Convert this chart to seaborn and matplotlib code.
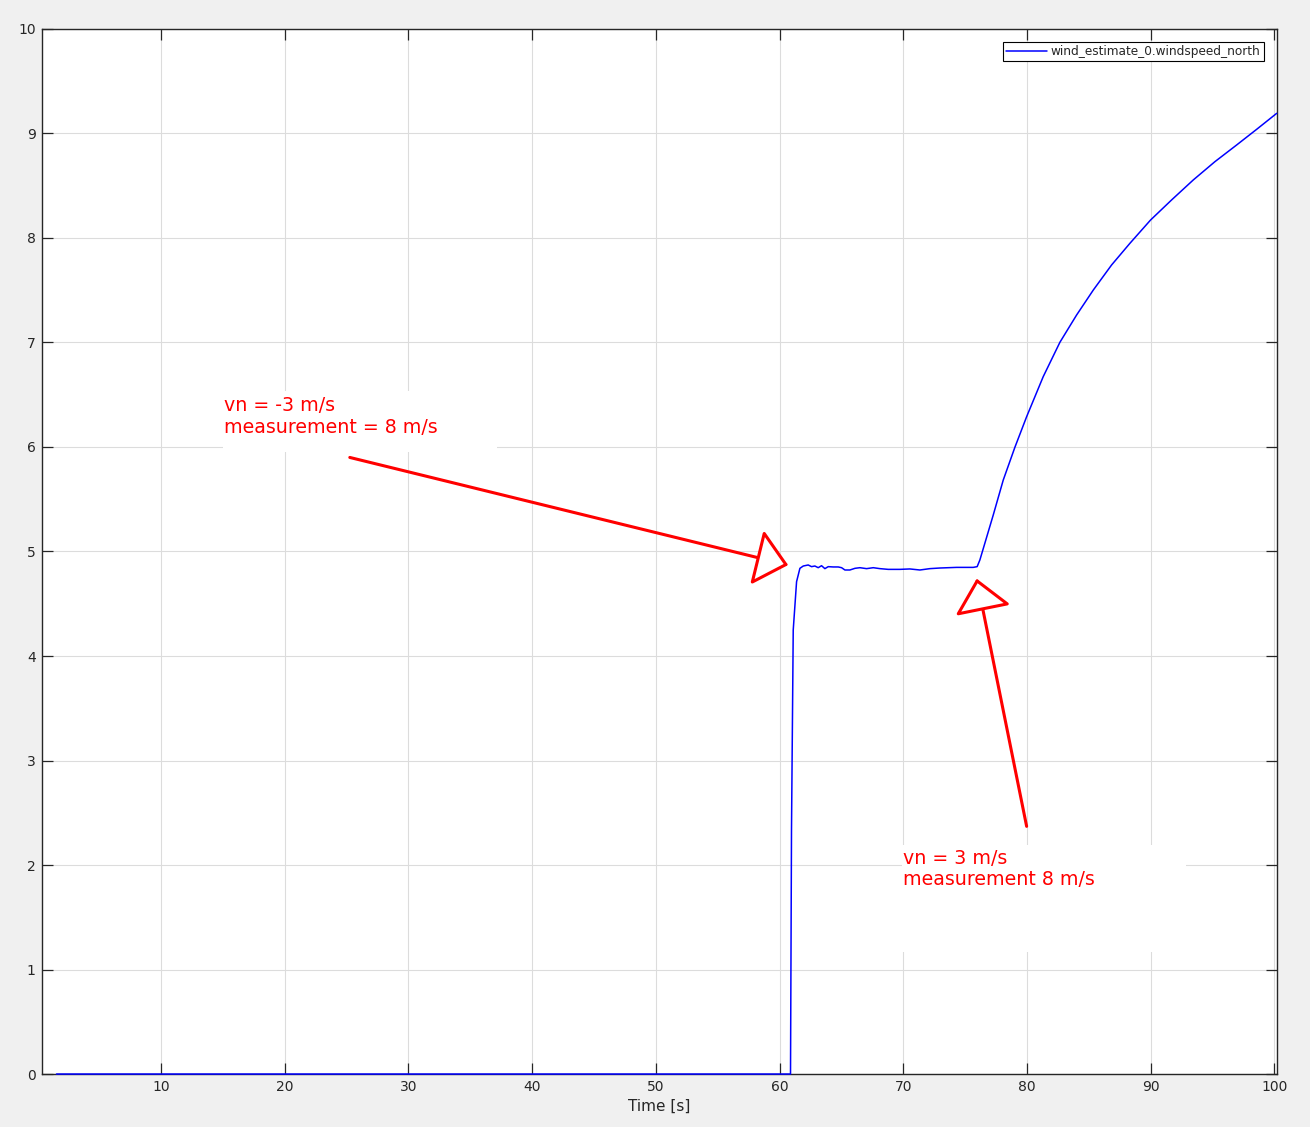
import pandas as pd
import matplotlib.pyplot as plt
import seaborn as sns
from matplotlib.patches import Rectangle

# wind_estimate_0.windspeed_north
time_s = [1.55, 60.89, 60.97, 61.11, 61.38, 61.65, 61.92, 62.32, 62.59, 62.86,
          63.13, 63.40, 63.67, 63.94, 64.34, 64.75, 65.02, 65.29, 65.69, 66.10,
          66.50, 67.04, 67.58, 68.12, 68.79, 69.73, 70.54, 71.35, 72.16, 72.97,
          74.32, 75.66, 75.98, 76.20, 77.28, 78.09, 79.03, 79.98, 81.32, 82.67,
          84.02, 85.37, 86.85, 88.33, 90.00, 91.70, 93.45, 95.20, 96.96, 98.58,
          100.20]
windspeed_north = [0.0, 0.0, 2.335, 4.249, 4.711, 4.839, 4.861, 4.871, 4.855, 4.861,
                   4.845, 4.864, 4.836, 4.855, 4.852, 4.852, 4.845, 4.823, 4.823, 4.839,
                   4.845, 4.836, 4.845, 4.836, 4.829, 4.829, 4.833, 4.823, 4.836, 4.842,
                   4.848, 4.848, 4.855, 4.919, 5.349, 5.684, 5.997, 6.290, 6.673, 7.002,
                   7.263, 7.502, 7.742, 7.949, 8.172, 8.364, 8.555, 8.730, 8.890, 9.040,
                   9.193]
series_label = 'wind_estimate_0.windspeed_north'

# hand drawn notes on the screenshot (text anchored at baseline of last line)
note_texts = ['vn = -3 m/s\nmeasurement = 8 m/s', 'vn = 3 m/s\nmeasurement 8 m/s']
note_xy = [(15.07, 6.137), (69.97, 1.806)]
note_boxes = [(14.97, 5.95, 22.23, 0.59), (69.87, 1.17, 22.99, 1.02)]
arrow_tails = [(25.26, 5.90), (79.98, 2.37)]
arrow_tips = [(60.70, 4.87), (75.94, 4.74)]

df = pd.DataFrame({'time': time_s, 'value': windspeed_north})

sns.set_theme(style='whitegrid', rc={
    'figure.facecolor': '#f0f0f0',
    'axes.facecolor': 'white',
    'axes.edgecolor': '#262626',
    'axes.linewidth': 1.0,
    'grid.color': '#dcdcdc',
    'grid.linewidth': 0.8,
    'xtick.direction': 'in',
    'ytick.direction': 'in',
    'xtick.top': True,
    'ytick.right': True,
    'xtick.bottom': True,
    'ytick.left': True,
    'xtick.color': '#262626',
    'ytick.color': '#262626',
    'xtick.major.size': 8,
    'ytick.major.size': 8,
    'xtick.major.width': 0.9,
    'ytick.major.width': 0.9,
    'xtick.major.pad': 4.5,
    'ytick.major.pad': 4.5,
})
plt.rcParams['font.family'] = ['DejaVu Sans']

fig = plt.figure(figsize=(13.1, 11.27), dpi=100)
ax = fig.add_axes([0.0321, 0.0470, 0.9427, 0.9273])

sns.lineplot(data=df, x='time', y='value', ax=ax, color='#0000ff', linewidth=1.1,
             label=series_label, estimator=None, sort=False, zorder=3)
for ln in ax.get_lines():
    ln.set_clip_on(False)

ax.set_xlim(0.38, 100.22)
ax.set_ylim(0, 10)
ax.set_xticks(range(10, 101, 10))
ax.set_yticks(range(0, 11))
ax.tick_params(labelsize=10, labelcolor='#262626')
ax.set_xlabel('Time [s]', fontsize=11, color='#262626', labelpad=3)
ax.set_ylabel('')
for s in ax.spines.values():
    s.set_visible(True)
    s.set_color('#262626')

for (bx, by, bw, bh), (tx, ty), txt in zip(note_boxes, note_xy, note_texts):
    ax.add_patch(Rectangle((bx, by), bw, bh, facecolor='white', edgecolor='none', zorder=2))
    ax.text(tx, ty, txt, color='red', fontsize=13.7, ha='left', va='baseline',
            linespacing=1.15, zorder=4)

for tail, tip in zip(arrow_tails, arrow_tips):
    ax.annotate('', xy=tip, xytext=tail, xycoords='data', textcoords='data',
                arrowprops=dict(arrowstyle='-|>,head_length=2.05,head_width=1.8',
                                mutation_scale=10, lw=2.2, ec='red', fc='white',
                                shrinkA=0, shrinkB=0), zorder=5)

leg = ax.legend(loc='upper right', fontsize=8.7, frameon=True, fancybox=False,
                framealpha=1, edgecolor='black', borderpad=0.25, handlelength=3.4,
                handletextpad=0.3, borderaxespad=1.1)
leg.get_frame().set_linewidth(0.8)

fig.savefig('out.png', dpi=100, facecolor=fig.get_facecolor())
